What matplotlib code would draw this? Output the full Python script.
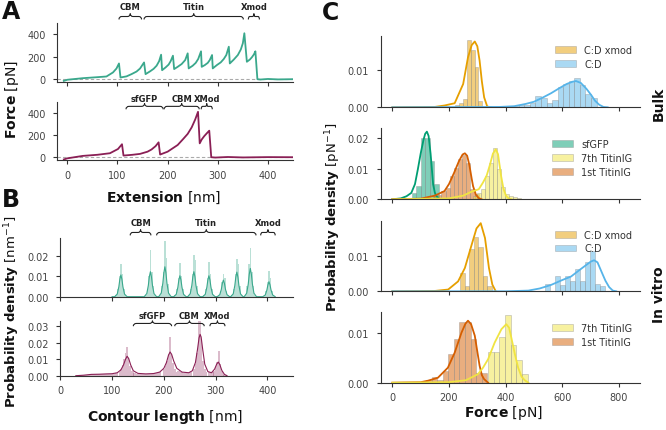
import matplotlib
matplotlib.use("Agg")
import matplotlib.pyplot as plt
import matplotlib.ticker as ticker
import matplotlib.transforms as mtransforms
from matplotlib.path import Path
from matplotlib.patches import PathPatch, Patch

# ── Panel A: force-extension traces ──────────────────────────────────
ext_top_x = [-7, 0, 31, 60, 78, 91, 98, 103, 106, 118, 128, 138, 145, 153,
             156, 165, 172, 178, 183, 187, 189, 196, 202, 206, 210.6,
             213, 220, 228, 235, 240, 242, 250, 256, 261, 266.6,
             268, 274, 280, 284, 288.6, 290, 298, 306, 312, 317, 322,
             324, 332, 340, 346, 350, 353, 358, 364, 368, 372, 375,
             379, 385, 400, 420, 450]
ext_top_f = [-15, -5, 9, 18, 24, 60, 95, 140, 15, 25, 45, 68, 95, 149,
             45, 70, 92, 120, 160, 218, 80, 105, 130, 160, 209,
             90, 110, 135, 170, 230, 96, 120, 145, 180, 248,
             110, 125, 145, 170, 215, 96, 125, 150, 180, 215, 289,
             140, 175, 215, 265, 320, 409, 155, 175, 195, 220, 248,
             0, -3, 2, -2, 0]

ext_bot_x = [-7, 0, 31, 60, 85, 101, 109, 112, 130, 145, 160, 168, 176, 182,
             185, 200, 208, 220, 231, 240, 248, 255, 260.6,
             264, 268, 273, 278, 283, 287, 295, 320, 350, 400, 450]
ext_bot_f = [-20, -10, 12, 22, 36, 74, 117, 15, 22, 30, 50, 70, 100, 134,
             24, 50, 74, 110, 164, 210, 269, 340, 409,
             125, 160, 190, 215, 239, 0, -3, 2, -2, 1, 0]

a_top_domains = [("CBM", 103, 148), ("Titin", 153, 351), ("Xmod", 361, 383)]
a_bot_domains = [("sfGFP", 117, 191), ("CBM", 193, 263), ("XMod", 267, 289)]

# ── Panel B: contour length histograms + density ─────────────────────
cl_top_x = [100,
            105, 110, 113, 115, 117, 119, 121, 124, 129,
            162, 167, 170, 172, 174, 176, 178, 181, 186,
            190, 195, 198, 200, 202, 204, 206, 209, 214,
            219, 224, 227, 229, 231, 233, 235, 238, 243,
            246, 251, 254, 256, 258, 260, 262, 265, 270,
            275, 280, 283, 285, 287, 289, 291, 294, 299,
            303, 308, 311, 313, 315, 317, 319, 322, 327,
            329, 334, 337, 339, 341, 343, 345, 348, 353,
            355, 360, 363, 365, 367, 369, 371, 374, 379,
            391, 396, 399, 401, 403, 405, 407, 410, 415]
cl_top_d = [0,
            0, .0013, .0048, .0085, .0106, .0085, .0048, .0013, 0,
            0, .0015, .0055, .0098, .0122, .0098, .0055, .0015, 0,
            0, .0018, .0066, .0117, .0146, .0117, .0066, .0018, 0,
            0, .0012, .0046, .0082, .0102, .0082, .0046, .0012, 0,
            0, .0015, .0055, .0098, .0122, .0098, .0055, .0015, 0,
            0, .0012, .0046, .0082, .0102, .0082, .0046, .0012, 0,
            0, .0010, .0036, .0065, .0081, .0065, .0036, .0010, 0,
            0, .0014, .0054, .0096, .0120, .0096, .0054, .0014, 0,
            0, .0017, .0062, .0110, .0138, .0110, .0062, .0017, 0,
            0, .0009, .0033, .0058, .0073, .0058, .0033, .0009, 0]

cl_top_bins = [108, 111, 114, 117, 120, 123, 126,
               165, 168, 171, 174, 177, 180, 183,
               193, 196, 199, 202, 205, 208, 211,
               222, 225, 228, 231, 234, 237, 240,
               249, 252, 255, 258, 261, 264, 267,
               278, 281, 284, 287, 290, 293, 296,
               306, 309, 312, 315, 318, 321, 324,
               332, 335, 338, 341, 344, 347, 350,
               358, 361, 364, 367, 370, 373, 376,
               394, 397, 400, 403, 406, 409, 412]
cl_top_hist = [.0008, .004, .010, .0158, .011, .004, .001,
               .001, .004, .010, .0228, .012, .005, .001,
               .001, .005, .012, .0272, .019, .006, .0015,
               .001, .004, .009, .0166, .010, .004, .001,
               .001, .004, .011, .0203, .018, .005, .001,
               .001, .004, .009, .017, .011, .004, .001,
               .0008, .003, .007, .0113, .009, .003, .0008,
               .001, .004, .011, .0183, .016, .005, .001,
               .001, .005, .016, .0239, .012, .005, .001,
               .0008, .003, .007, .0125, .009, .003, .0008]

cl_bot_x = [30, 45, 60, 75, 90, 100, 110, 117, 122, 126, 129, 132, 136, 141,
            150, 165, 180, 192, 200, 205, 209, 212, 215, 219, 225, 235, 248,
            255, 261, 265, 268, 270, 272, 275, 279, 285, 292, 298, 302, 305,
            308, 312, 317, 322]
cl_bot_d = [0, .0003, .0008, .0009, .0011, .0012, .0018, .0035, .0065, .0100,
            .0118, .0105, .0065, .0030, .0014, .0011, .0013, .0022, .0045,
            .0080, .0125, .0144, .0130, .0090, .0045, .0022, .0018, .0030,
            .0080, .0160, .0230, .0251, .0235, .0160, .0070, .0025, .0018,
            .0040, .0070, .0083, .0068, .0032, .0008, 0]

cl_bot_base_bins = [42, 48, 54, 60, 66, 72, 78, 84, 90, 96, 102, 108,
                    144, 150, 156, 162, 168, 174, 180, 186, 192,
                    228, 234, 240, 246, 252, 288, 294, 318]
cl_bot_base_hist = [.0003, .0005, .0007, .0009, .0009, .0008, .0009, .0010,
                    .0011, .0011, .0012, .0015, .0016, .0012, .0011, .0010,
                    .0011, .0012, .0014, .0017, .0022, .0030, .0022, .0019,
                    .0018, .0024, .0022, .0025, .0006]
cl_bot_bins = [114, 117, 120, 123, 126, 129, 132, 135, 138, 141,
               200, 203, 206, 209, 212, 215, 218, 221, 224,
               258, 261, 264, 267, 270, 273, 276, 279, 282,
               297, 300, 303, 306, 309, 312, 315]
cl_bot_hist = [.0025, .004, .0065, .010, .014, .0174, .0105, .006, .003, .002,
               .004, .006, .009, .013, .0235, .0125, .008, .004, .0025,
               .004, .007, .014, .034, .034, .021, .009, .004, .0025,
               .003, .005, .0085, .0148, .007, .003, .0012]

b_top_domains = [("CBM", 135, 175), ("Titin", 186, 378), ("Xmod", 387, 415)]
b_bot_domains = [("sfGFP", 141, 215), ("CBM", 221, 278), ("XMod", 289, 318)]

# ── Panel C: unfolding force histograms + fits ───────────────────────
c1_xmod_edges = [220, 234, 248, 262, 276, 290, 304]
c1_xmod_hist = [.0006, .0012, .0022, .0182, .0155, .0108, .0017]
c1_xmod_x = [0, 150, 185, 220, 250, 267, 280, 291, 300, 308, 316, 324, 335, 350]
c1_xmod_y = [0, .0001, .0005, .0011, .0063, .0135, .0168, .0178, .0165, .0126,
             .0070, .0027, .0002, 0]
c1_cd_edges = [407, 426.6, 446.2, 465.8, 485.4, 505, 524.6, 544.2, 563.8,
               583.4, 603, 622.6, 642.2, 661.8, 681.4, 701]
c1_cd_hist = [.0002, .0003, .0005, .0006, .0011, .0031, .0026, .0012, .0021,
              .0054, .0063, .0072, .0078, .0059, .0036, .0025]
c1_cd_x = [0, 380, 430, 470, 500, 530, 560, 590, 615, 635, 648, 665, 685,
           702, 715, 730, 745, 760]
c1_cd_y = [0, .0001, .0003, .0009, .0015, .0026, .0038, .0052, .0063, .0069,
           .0071, .0066, .0050, .0033, .0018, .0007, .0001, 0]

c2_gfp_edges = [68, 84, 100, 116, 132, 148]
c2_gfp_hist = [.0022, .0045, .0200, .0200, .0125, .0050]
c2_gfp_x = [0, 30, 50, 67, 80, 90, 100, 110, 116, 122, 128, 135, 144, 150,
            156, 165, 175]
c2_gfp_y = [0, .0003, .0010, .0021, .0050, .0098, .0150, .0195, .0215, .0222,
            .0208, .0150, .0049, .0022, .0010, .0002, 0]
c2_t1_edges = [144, 158.6, 173.2, 187.8, 202.4, 217, 231.6, 246.2, 260.8,
               275.4, 290]
c2_t1_hist = [.0010, .0013, .0027, .0038, .0076, .0104, .0133, .0147, .0120,
              .0035, .0018]
c2_t1_x = [0, 100, 150, 184, 200, 218, 235, 248, 256, 264, 272, 280, 285,
           295, 305, 315]
c2_t1_y = [0, .0002, .0012, .0027, .0050, .0087, .0125, .0147, .0151, .0143,
           .0112, .0068, .0043, .0015, .0004, 0]
c2_t7_edges = [285, 299, 313, 327, 341, 355, 369, 383, 397, 411, 425, 439]
c2_t7_hist = [.0010, .0022, .0033, .0076, .0120, .0168, .0100, .0040, .0018,
              .0012, .0008, .0004]
c2_t7_x = [0, 200, 250, 280, 305, 320, 333, 345, 355, 365, 373, 384, 392,
           402, 412, 420]
c2_t7_y = [0, .0003, .0012, .0025, .0033, .0055, .0078, .0115, .0150, .0164,
           .0148, .0076, .0035, .0010, .0002, 0]

c3_xmod_edges = [239, 255, 271, 287, 303, 319, 335]
c3_xmod_hist = [.0051, .0016, .0120, .0155, .0125, .0044, .0016]
c3_xmod_x = [0, 150, 197, 232, 256, 280, 297, 312, 327, 341, 353, 365]
c3_xmod_y = [0, .0001, .0005, .0028, .0066, .0132, .0178, .0193, .0151,
             .0066, .0019, 0]
c3_cd_edges = [539, 556.5, 574, 591.5, 609, 626.5, 644, 661.5, 679, 696.5,
               714, 731.5, 749]
c3_cd_hist = [.0021, 0, .0042, .0018, .0042, .0030, .0063, .0030, .0082,
              .0115, .0020, .0015, 0]
c3_cd_x = [0, 400, 480, 520, 560, 600, 631, 660, 685, 700, 712, 724, 740,
           752, 765, 778, 790]
c3_cd_y = [0, 0, .0002, .0008, .0018, .0032, .0042, .0060, .0075, .0084,
           .0088, .0082, .0052, .0030, .0012, .0002, 0]

c4_t1_edges = [120, 139.5, 159, 178.5, 198, 217.5, 237, 256.5, 276, 295.5, 315]
c4_t1_hist = [.0006, .0012, .0005, .0024, .0057, .0087, .0122, .0122, .0087,
              .0020, .0020]
c4_t1_x = [0, 100, 126, 161, 196, 220, 244, 258, 267, 278, 291, 300, 308,
           316, 324, 338]
c4_t1_y = [0, .0001, .0004, .0010, .0030, .0060, .0100, .0118, .0124, .0117,
           .0094, .0062, .0034, .0015, .0007, 0]
c4_t7_edges = [338, 358, 378, 398, 418, 438, 458]
c4_t7_hist = [.0062, .0062, .0092, .0135, .0075, .0045, .0018]
c4_t7_x = [0, 200, 260, 302, 320, 338, 361, 385, 402, 412, 420, 432, 444,
           456, 467, 480]
c4_t7_y = [0, .0001, .0005, .0017, .0030, .0047, .0080, .0107, .0117, .0110,
           .0090, .0058, .0030, .0012, .0005, 0]

# ── Style ─────────────────────────────────────────────────────────────
plt.rcParams["font.family"] = "DejaVu Sans"
plt.rcParams["mathtext.fontset"] = "dejavusans"

TEAL = "#3aa88c"
MAROON = "#8a1f55"
C_GFP = "#009e73"
C_T7 = "#f0e442"
C_T1 = "#d55e00"
C_XMOD = "#e69f00"
C_CD = "#56b4e9"
EDGE = (0.55, 0.55, 0.55, 0.5)


def style_ax(ax, labelbottom=True):
    for s in ("top", "right"):
        ax.spines[s].set_visible(False)
    for s in ("left", "bottom"):
        ax.spines[s].set_color("#333333")
        ax.spines[s].set_linewidth(0.8)
    ax.tick_params(colors="#333333", labelcolor="#444444", labelsize=7,
                   length=3, width=0.8, labelbottom=labelbottom)
    ax.tick_params(axis="y", pad=5.5)
    ax.tick_params(axis="x", pad=4)


def brace(ax, x0, x1, y, label, h=0.05, toff=2.5):
    trans = mtransforms.blended_transform_factory(ax.transData, ax.transAxes)
    e = min(6, (x1 - x0) * 0.12)
    xm = (x0 + x1) / 2
    verts = [(x0, y - h), (x0, y), (x0 + e, y), (xm - e, y), (xm, y), (xm, y + h),
             (xm, y), (xm + e, y), (x1 - e, y), (x1, y), (x1, y - h)]
    codes = [Path.MOVETO, Path.CURVE3, Path.CURVE3, Path.LINETO, Path.CURVE3,
             Path.CURVE3, Path.CURVE3, Path.CURVE3, Path.LINETO, Path.CURVE3,
             Path.CURVE3]
    ax.add_patch(PathPatch(Path(verts, codes), transform=trans, fill=False,
                           lw=0.8, edgecolor="#222222", clip_on=False))
    ax.annotate(label, xy=(xm, y + h), xycoords=trans, xytext=(0, toff),
                textcoords="offset points", ha="center", va="bottom",
                fontsize=6, fontweight="bold", color="#222222",
                annotation_clip=False)


fig = plt.figure(figsize=(6.66, 4.31), dpi=100)
W, H = 666, 431


def add_ax(x0, x1, ytop, ybot):
    return fig.add_axes([x0 / W, 1 - ybot / H, (x1 - x0) / W, (ybot - ytop) / H])


# ── A ─────────────────────────────────────────────────────────────────
axA1 = add_ax(57.3, 293, 24, 83)
axA2 = add_ax(57.3, 293, 102.7, 161)
for ax, xs, fs, col, doms, yb, toff in (
        (axA1, ext_top_x, ext_top_f, TEAL, a_top_domains, 1.11, 2.0),
        (axA2, ext_bot_x, ext_bot_f, MAROON, a_bot_domains, 0.92, 0.0)):
    ax.axhline(0, color="#aaaaaa", lw=0.8, ls=(0, (3, 2)), zorder=1)
    ax.plot(xs, fs, color=col, lw=1.3, zorder=2)
    ax.set_xlim(-20, 450)
    ax.set_ylim(-25, 500)
    ax.set_yticks([0, 200, 400])
    ax.set_xticks([0, 100, 200, 300, 400])
    style_ax(ax, labelbottom=(ax is axA2))
    for lab, x0, x1 in doms:
        brace(ax, x0, x1, yb, lab, toff=toff)

# ── B ─────────────────────────────────────────────────────────────────
axB1 = add_ax(60.3, 293.3, 239.3, 297.7)
axB2 = add_ax(60.3, 293.3, 321.7, 376.7)
axB1.bar(cl_top_bins, cl_top_hist, width=3, color=TEAL, alpha=0.35, lw=0)
axB1.plot(cl_top_x, cl_top_d, color=TEAL, lw=0.8)
axB1.set_ylim(0, 0.0285)
axB1.set_yticks([0, 0.01, 0.02])
axB2.bar(cl_bot_base_bins, cl_bot_base_hist, width=6, color=MAROON, alpha=0.3, lw=0)
axB2.bar(cl_bot_bins, cl_bot_hist, width=3, color=MAROON, alpha=0.3, lw=0)
axB2.plot(cl_bot_x, cl_bot_d, color=MAROON, lw=0.8)
axB2.set_ylim(0, 0.0334)
axB2.set_yticks([0, 0.01, 0.02, 0.03])
for ax, doms, yb, toff in ((axB1, b_top_domains, 1.10, 2.0),
                           (axB2, b_bot_domains, 0.95, 0.5)):
    ax.set_xlim(0, 450)
    ax.set_xticks([0, 100, 200, 300, 400])
    ax.yaxis.set_major_formatter(ticker.FormatStrFormatter("%.2f"))
    style_ax(ax, labelbottom=(ax is axB2))
    for lab, x0, x1 in doms:
        brace(ax, x0, x1, yb, lab, toff=toff)

# ── C ─────────────────────────────────────────────────────────────────
axC = [add_ax(380.7, 640, 37.3, 108.3), add_ax(380.7, 640, 129.3, 200.3),
       add_ax(380.7, 640, 221.7, 292.3), add_ax(380.7, 640, 312.7, 383.7)]

panels = [
    [(c1_xmod_edges, 14, c1_xmod_hist, c1_xmod_x, c1_xmod_y, C_XMOD, "C:D xmod"),
     (c1_cd_edges, 19.6, c1_cd_hist, c1_cd_x, c1_cd_y, C_CD, "C:D")],
    [(c2_gfp_edges, 16, c2_gfp_hist, c2_gfp_x, c2_gfp_y, C_GFP, "sfGFP"),
     (c2_t1_edges, 14.6, c2_t1_hist, c2_t1_x, c2_t1_y, C_T1, "1st TitinIG"),
     (c2_t7_edges, 14, c2_t7_hist, c2_t7_x, c2_t7_y, C_T7, "7th TitinIG")],
    [(c3_xmod_edges, 16, c3_xmod_hist, c3_xmod_x, c3_xmod_y, C_XMOD, "C:D xmod"),
     (c3_cd_edges, 17.5, c3_cd_hist, c3_cd_x, c3_cd_y, C_CD, "C:D")],
    [(c4_t1_edges, 19.5, c4_t1_hist, c4_t1_x, c4_t1_y, C_T1, "1st TitinIG"),
     (c4_t7_edges, 20, c4_t7_hist, c4_t7_x, c4_t7_y, C_T7, "7th TitinIG")],
]
legend_order = [["C:D xmod", "C:D"], ["sfGFP", "7th TitinIG", "1st TitinIG"],
                ["C:D xmod", "C:D"], ["7th TitinIG", "1st TitinIG"]]
ylims = [0.0192, 0.0233, 0.020, 0.0142]
yticks = [[0, 0.01], [0, 0.01, 0.02], [0, 0.01], [0, 0.01]]
leg_y = [0.93, 0.90, 0.93, 0.90]

for i, ax in enumerate(axC):
    handles = {}
    for edges, w, hist, cx, cy, col, lab in panels[i]:
        ax.bar(edges, hist, width=w, align="edge", color=col, alpha=0.5,
               edgecolor=EDGE, lw=0.5)
        ax.plot(cx, cy, color=col, lw=1.3)
        handles[lab] = Patch(facecolor=col, alpha=0.5, edgecolor=EDGE, lw=0.5)
    ax.set_xlim(-41, 874)
    ax.set_ylim(0, ylims[i])
    ax.set_yticks(yticks[i])
    ax.set_xticks([0, 200, 400, 600, 800])
    ax.yaxis.set_major_formatter(ticker.FormatStrFormatter("%.2f"))
    style_ax(ax, labelbottom=(i == 3))
    ax.legend([handles[k] for k in legend_order[i]], legend_order[i],
              loc="upper right", bbox_to_anchor=(0.985, leg_y[i]),
              frameon=False, fontsize=7, handlelength=2.2, labelspacing=0.4,
              borderaxespad=0, handletextpad=0.8, labelcolor="#333333")

# ── Labels ────────────────────────────────────────────────────────────
lab_kw = dict(fontsize=10, color="#111111")
fig.text(12 / W, 1 - 100 / H, r"$\mathbf{Force}$ [pN]", rotation=90,
         ha="center", va="center", **lab_kw)
fig.text(164 / W, 1 - 198 / H, r"$\mathbf{Extension}$ [nm]",
         ha="center", va="center", **lab_kw)
fig.text(12 / W, 1 - 312 / H, r"$\mathbf{Probability\ density}$ [nm$^{-1}$]",
         rotation=90, ha="center", va="center", fontsize=9.5, color="#111111")
fig.text(165 / W, 1 - 417 / H, r"$\mathbf{Contour\ length}$ [nm]",
         ha="center", va="center", **lab_kw)
fig.text(333 / W, 1 - 217 / H, r"$\mathbf{Probability\ density}$ [pN$^{-1}$]",
         rotation=90, ha="center", va="center", fontsize=9.5, color="#111111")
fig.text(503 / W, 1 - 413 / H, r"$\mathbf{Force}$ [pN]",
         ha="center", va="center", **lab_kw)
fig.text(659 / W, 1 - 104 / H, "Bulk", rotation=90, ha="center", va="center",
         fontsize=10, fontweight="bold", color="#111111")
fig.text(659 / W, 1 - 295 / H, "In vitro", rotation=90, ha="center",
         va="center", fontsize=10, fontweight="bold", color="#111111")

for letter, x, y in (("A", 2, 12), ("B", 2, 200), ("C", 322, 13)):
    fig.text(x / W, 1 - y / H, letter, fontsize=17, fontweight="bold",
             ha="left", va="center", color="#111111")

fig.savefig("out.png", dpi=100)
